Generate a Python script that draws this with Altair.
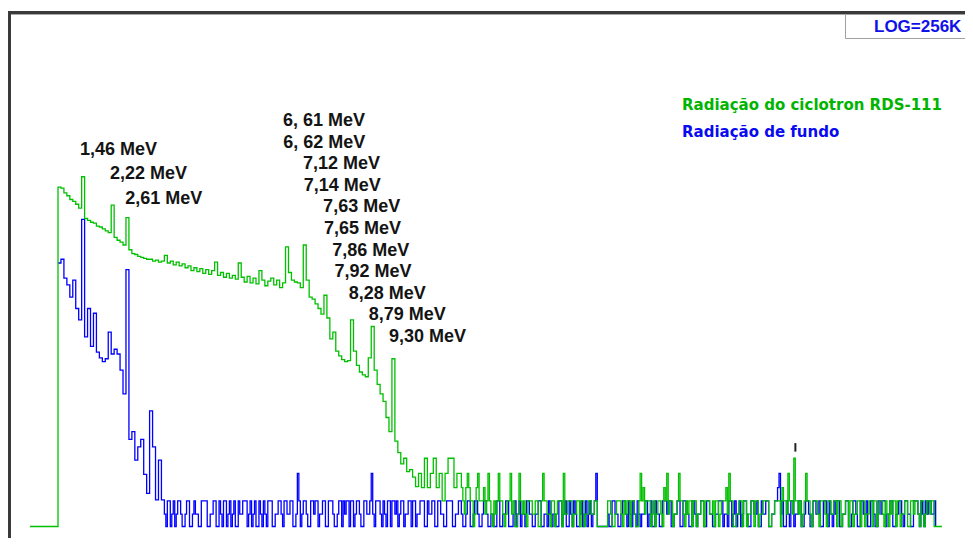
import altair as alt
import pandas as pd

# ---------------- data ----------------
# channel grid in MeV (head part at DE, noisy tail at DE/2)
E0 = 0.825
DE = 0.075
GREEN_START_E = 0.114
GREEN_END_E = 23.26

# display levels are log10(counts); full scale (LOG=256K) = log10(262144)
Y_MAX = 5.418
# low-count levels seen in the noisy tail, indexed by level number
LEVELS = [0.0, 0.13, 0.27, 0.41, 0.56, 0.72]

GREEN_HEAD = [
    3.58, 3.57, 3.52, 3.49, 3.45, 3.43, 3.40, 3.36, 3.69, 3.25,
    3.23, 3.21, 3.20, 3.17, 3.16, 3.14, 3.12, 3.10, 3.39, 3.05,
    3.02, 3.00, 2.97, 3.26, 2.92, 2.88, 2.87, 2.85, 2.84, 2.83,
    2.82, 2.82, 2.80, 2.81, 2.79, 2.80, 2.86,
    2.78, 2.80, 2.76, 2.79, 2.75, 2.77, 2.73, 2.75, 2.70, 2.73,
    2.69, 2.72, 2.67, 2.71, 2.66, 2.70, 2.79, 2.65, 2.68, 2.63,
    2.67, 2.62, 2.65, 2.61, 2.78, 2.63, 2.58, 2.64, 2.57, 2.62,
    2.56, 2.70, 2.60, 2.54, 2.59, 2.62, 2.55, 2.60, 2.52, 2.57,
    2.95, 2.68, 2.60,
    2.58, 2.57, 2.52, 2.97, 2.60, 2.42, 2.40, 2.35, 2.30, 2.24,
    2.44, 2.20, 1.98, 2.05, 1.85, 1.80, 1.76, 1.74, 1.75, 2.18,
    1.85, 1.70, 1.63, 1.60, 1.58, 1.78, 2.11, 1.65, 1.50, 1.40,
    1.32, 1.15, 1.00, 1.77, 0.90, 0.78, 0.66, 0.72, 0.58, 0.60,
    0.52, 0.42, 0.56, 0.41, 0.72, 0.41, 0.56, 0.72, 0.41, 0.56,
    0.27, 0.56, 0.72, 0.72, 0.41, 0.56,
]

GREEN_TAIL = [
    4, 3, 2, 1, 3, 4, 3, 2,
    2, 0, 1, 3, 4, 2, 2, 2, 3, 1, 2, 4, 2, 1, 0, 2, 1, 2, 4, 2,
    2, 1, 0, 1, 2, 2, 4, 1, 2, 0, 0, 1, 4, 2, 1, 2, 1, 0, 2, 2,
    2, 1, 1, 2, 2, 0, 0, 2, 4, 2, 2, 1, 1, 0, 2, 2, 0, 1, 2, 2,
    2, 0, 4, 1, 1, 2, 2, 2, 0, 1, 1, 2, 2, 0, 2, 2, 0, 1, 1, 2,
    2, 1, 1, 2, 2, 0, 0, 0, 0, 0, 0, 0, 2, 2, 1, 0, 0, 1, 2, 2,
    2, 1, 0, 2, 1, 2, 2, 0, 2, 2, 1, 0, 0, 2, 4, 2, 3, 1, 2, 2,
    2, 0, 1, 2, 0, 1, 2, 2, 1, 0, 3, 2, 4, 1, 2, 2, 0, 1, 1, 2,
    4, 2, 2, 1, 0, 2, 1, 2, 2, 0, 2, 2, 0, 1, 1, 2, 2, 0, 2, 2,
    2, 1, 1, 2, 0, 2, 2, 0, 1, 2, 2, 2, 3, 1, 4, 2, 2, 0, 0, 1,
    1, 2, 2, 0, 2, 2, 0, 1, 1, 2, 2, 0, 2, 2, 0, 1, 1, 2, 2, 2,
    2, 0, 0, 1, 1, 2, 2, 2, 2, 0, 3, 2, 2, 1, 4, 2, 2, 1, 5, 2,
    2, 1, 2, 0, 1, 2, 4, 2, 2, 1, 0, 2, 2, 2, 1, 0, 2, 2, 2, 1,
    0, 2, 2, 1, 1, 2, 2, 0, 2, 2, 0, 1, 1, 2, 2, 0, 2, 2, 0, 1,
    1, 2, 2, 0, 2, 2, 0, 1, 1, 2, 2, 0, 2, 2, 0, 1, 2, 2, 1, 0,
    2, 1, 0, 2, 1, 2, 2, 0, 2, 2, 0, 1, 1, 2, 2, 0, 0, 2, 2, 1,
    2, 2, 1, 0, 2, 2, 0, 1, 2, 2, 1, 2, 2, 0,
]

BLUE_HEAD = [
    2.78, 2.82, 2.62, 2.55, 2.42, 2.60, 2.30, 2.18, 3.24, 2.00,
    2.30, 1.90, 2.25, 1.84, 1.78, 1.74, 1.77, 2.05, 1.82, 1.87,
    1.82, 1.65, 1.40, 2.71, 0.92, 1.00, 0.70, 0.84, 0.92, 0.55,
    0.35, 1.22, 0.84, 0.28, 0.70, 0.28,
]

BLUE_TAIL = [
    1, 0, 2, 2, 0, 1, 2, 0, 1, 2, 2, 1, 0, 0, 1, 2, 2, 0, 0, 1,
    2, 1, 1, 0, 0, 2, 2, 2, 2, 0, 0, 1, 1, 2, 2, 0, 0, 2, 1, 0,
    2, 2, 0, 1, 2, 0, 1, 2, 0, 0, 2, 1, 1, 2, 2, 2, 0, 1, 2, 0,
    1, 2, 0, 0, 2, 1, 0, 2, 1, 0, 2, 2, 2, 0, 0, 1, 1, 2, 2, 1,
    0, 2, 2, 1, 1, 2, 2, 0, 0, 1, 4, 2, 0, 1, 2, 2, 1, 0, 0, 2,
    2, 1, 2, 2, 0, 1, 1, 2, 2, 0, 0, 2, 2, 2, 1, 0, 0, 1, 2, 2,
    0, 2, 1, 2, 2, 0, 2, 2, 0, 1, 2, 2, 1, 0, 0, 2, 2, 1, 1, 2,
    4, 1, 0, 2, 2, 2, 1, 0, 2, 1, 0, 2, 2, 0, 2, 2, 1, 2, 0, 1,
    2, 2, 0, 1, 1, 2, 2, 0, 2, 2, 0, 1, 1, 2, 2, 2, 0, 0, 2, 1,
    1, 2, 2, 0, 0, 2, 2, 1, 1, 0, 0, 2, 2, 2, 2, 0, 0, 1, 1, 2,
    2, 1, 0, 0, 1, 2, 2, 0, 0, 1, 2, 2, 1, 0, 0, 1, 2, 2, 1, 0,
    0, 1, 1, 0, 0, 2, 2, 0, 0, 1, 1, 2, 2, 0, 0, 0, 1, 2, 0, 1,
    2, 0, 1, 1, 0, 2, 2, 1, 1, 0, 0, 1, 1, 2, 2, 0, 0, 1, 1, 0,
    2, 1, 0, 1, 1, 0, 0, 2, 2, 0, 1, 2, 0, 0, 2, 1, 0, 2, 1, 0,
    0, 1, 2, 0, 1, 2, 0, 1, 2, 0, 1, 2, 4, 0, 0, 0, 0, 0, 0, 0,
    1, 0, 0, 2, 2, 1, 1, 0, 0, 1, 2, 2, 1, 0, 2, 1, 0, 2, 1, 0,
    2, 1, 0, 1, 1, 2, 2, 0, 1, 2, 0, 0, 2, 1, 1, 0, 0, 2, 2, 2,
    1, 2, 2, 0, 0, 1, 1, 2, 2, 0, 0, 2, 2, 1, 1, 0, 0, 2, 2, 1,
    0, 1, 1, 2, 2, 0, 0, 2, 2, 1, 1, 0, 0, 1, 1, 2, 2, 2, 0, 1,
    1, 0, 2, 2, 0, 1, 2, 0, 1, 2, 0, 1, 2, 2, 1, 0, 0, 2, 2, 1,
    1, 2, 0, 0, 2, 1, 1, 2, 2, 0, 0, 1, 1, 2, 2, 3, 4, 1, 2, 0,
    0, 2, 1, 0, 2, 2, 0, 1, 1, 2, 2, 0, 0, 1, 2, 2, 1, 0, 0, 2,
    2, 1, 1, 2, 0, 0, 2, 2, 1, 0, 2, 1, 0, 2, 1, 2, 2, 0, 0, 1,
    1, 2, 2, 0, 0, 1, 2, 2, 1, 0, 0, 2, 2, 1, 1, 2, 0, 0, 2, 2,
    1, 0, 0, 2, 2, 1, 2, 2, 0, 1, 1, 2, 2, 0, 0, 1, 1, 2, 2, 1,
    0, 2, 2, 1, 1, 0, 0, 2, 2, 2, 1, 0, 2, 1, 0, 2, 1, 2, 2, 1,
    1, 2,
]

LABELS_LOW = ["1,46 MeV", "2,22 MeV", "2,61 MeV"]
LABELS_LOW_E = [1.46, 2.22, 2.61]
LABELS_HIGH = ["6, 61 MeV", "6, 62 MeV", "7,12 MeV", "7,14 MeV", "7,63 MeV",
               "7,65 MeV", "7,86 MeV", "7,92 MeV", "8,28 MeV", "8,79 MeV",
               "9,30 MeV"]
LABELS_HIGH_E = [6.61, 6.62, 7.12, 7.14, 7.63, 7.65, 7.86, 7.92, 8.28, 8.79, 9.30]

CURSOR_E = 19.54
CURSOR_Y = [0.79, 0.88]

LEGEND_GREEN = "Radiação do ciclotron RDS-111"
LEGEND_BLUE = "Radiação de fundo"
LOG_TEXT = "LOG=256K"

GREEN = "#00c000"
BLUE = "#0000ff"

# ---------------- build tables ----------------
def spectrum(head, tail, start_e=None, end_es=()):
    pts = []
    if start_e is not None:
        pts.append((start_e, 0.0))
    for i, v in enumerate(head):
        pts.append((E0 + DE * i, v))
    t0 = E0 + DE * len(head)
    for j, k in enumerate(tail):
        pts.append((t0 + DE / 2 * j, LEVELS[k]))
    end = t0 + DE / 2 * len(tail)
    pts.append((end, 0.0))
    for e in end_es:
        pts.append((e, 0.0))
    return pd.DataFrame({"E": [p[0] for p in pts],
                         "v": [p[1] for p in pts],
                         "idx": list(range(len(pts)))})

green_df = spectrum(GREEN_HEAD, GREEN_TAIL, GREEN_START_E, (GREEN_END_E,))
blue_df = spectrum(BLUE_HEAD, BLUE_TAIL)

W, H = 957, 530
XS = alt.Scale(domain=[0, 24], range=[17.5, 17.5 + 39.4 * 24])
YS = alt.Scale(domain=[0, Y_MAX], range=[518.5, 5])

def line(df, color):
    return alt.Chart(df).mark_line(
        interpolate="step-after", color=color, strokeWidth=1.3
    ).encode(
        x=alt.X("E:Q", scale=XS, axis=None),
        y=alt.Y("v:Q", scale=YS, axis=None),
        order="idx:Q",
    )

blue_line = line(blue_df, BLUE)
green_line = line(green_df, GREEN)

cursor = alt.Chart(pd.DataFrame({"E": [CURSOR_E], "y0": [CURSOR_Y[0]], "y1": [CURSOR_Y[1]]})).mark_rule(
    color="#222222", strokeWidth=2
).encode(
    x=alt.X("E:Q", scale=XS, axis=None),
    y=alt.Y("y0:Q", scale=YS, axis=None),
    y2="y1:Q",
)

data_layer = alt.layer(blue_line, green_line, cursor)

def label_layer(texts, energies, y_top, y_bottom):
    df = pd.DataFrame({"t": texts, "E": energies, "row": list(range(len(texts)))})
    return alt.Chart(df).mark_text(
        align="left", baseline="middle", dx=-3, font="Liberation Sans",
        fontWeight="bold", fontSize=18, color="#141414"
    ).encode(
        x=alt.X("E:Q", scale=XS, axis=None),
        y=alt.Y("row:Q", scale=alt.Scale(domain=[0, len(texts) - 1], range=[y_top, y_bottom]), axis=None),
        text="t:N",
    )

labels_low = label_layer(LABELS_LOW, LABELS_LOW_E, 142, 190.5)
labels_high = label_layer(LABELS_HIGH, LABELS_HIGH_E, 113, 329)

base = alt.Chart(pd.DataFrame({"a": [0]}))

frame_top = base.mark_rule(color="#3a3a3a", strokeWidth=3).encode(
    x=alt.value(0), x2=alt.value(W), y=alt.value(4.5))
frame_top2 = base.mark_rule(color="#a8a8a8", strokeWidth=1).encode(
    x=alt.value(3), x2=alt.value(W), y=alt.value(6.5))
frame_left = base.mark_rule(color="#3a3a3a", strokeWidth=3).encode(
    x=alt.value(1.5), y=alt.value(3), y2=alt.value(H))

log_box = base.mark_rect(fill="white", stroke="#a0a0a0", strokeWidth=1).encode(
    x=alt.value(837.5), x2=alt.value(W + 5), y=alt.value(6.5), y2=alt.value(30.5))
log_text = base.mark_text(
    text=LOG_TEXT, align="left", baseline="middle", font="Liberation Sans",
    fontWeight="bold", fontSize=17, color="#1010e8"
).encode(x=alt.value(866), y=alt.value(18.5))

legend_green = base.mark_text(
    text=LEGEND_GREEN, align="left", baseline="middle", font="DejaVu Sans",
    fontWeight="bold", fontSize=15, color="#00b400"
).encode(x=alt.value(674), y=alt.value(97))
legend_blue = base.mark_text(
    text=LEGEND_BLUE, align="left", baseline="middle", font="DejaVu Sans",
    fontWeight="bold", fontSize=15, color="#0a0af0"
).encode(x=alt.value(674), y=alt.value(124))

chart = alt.layer(
    frame_top, frame_top2, frame_left, log_box, log_text,
    data_layer, labels_low, labels_high, legend_green, legend_blue,
).resolve_scale(
    y="independent"
).properties(
    width=W, height=H, padding=0, autosize="none", background="white"
).configure_view(stroke=None)

chart.save("out.html", embed_options={"renderer": "svg", "actions": False})
